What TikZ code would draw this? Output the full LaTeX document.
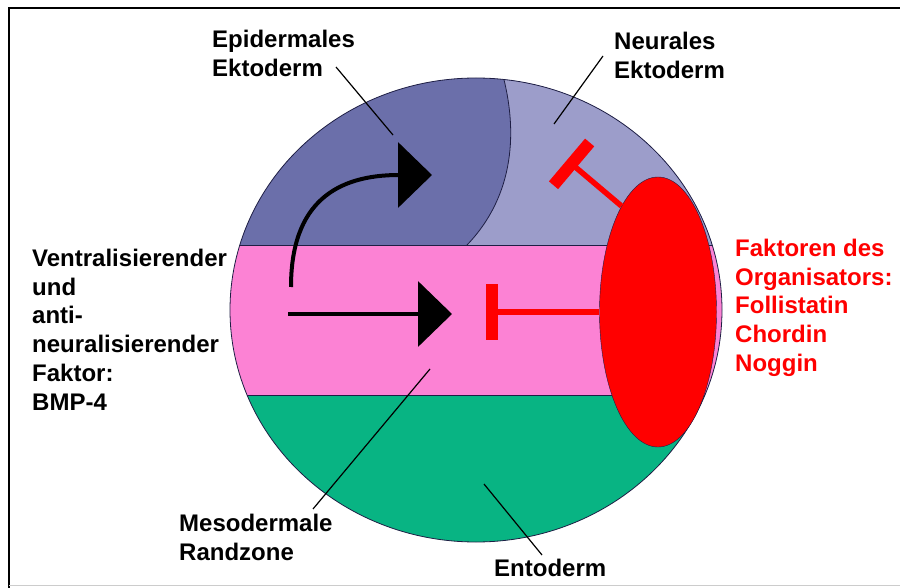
\documentclass[tikz,border=0pt]{standalone}
\usepackage{fontspec}
\setmainfont{Liberation Sans}
\usepackage{tikz}
\usetikzlibrary{positioning,shapes.geometric,arrows.meta}
\definecolor{epiblue}{HTML}{6B6FAA}
\definecolor{neublue}{HTML}{9C9DCA}
\definecolor{mesopink}{HTML}{FC82D4}
\definecolor{entogreen}{HTML}{08B483}
\definecolor{orgred}{HTML}{FF0000}
\definecolor{edgeblue}{HTML}{1E1E44}

\begin{document}
\begin{tikzpicture}[x=1pt,y=-1pt,
  lbl/.style={anchor=north west,inner sep=0pt,align=left,font=\fontsize{24}{28.7}\selectfont\bfseries},
  leader/.style={line width=1.2pt},
  push/.style={line width=4pt,-{Triangle[length=34pt,width=65pt]}},
  inhibit/.style={orgred,line width=5.5pt,-{Rectangle[length=12pt,width=56pt]}}]
  \useasboundingbox (0,0) rectangle (900,588);
  \draw[line width=2.5pt] (9,600) -- (9,8) -- (910,8);
  \draw[black!20,line width=1pt] (9,585) -- (900,585);
  % embryo
  \begin{scope}
    \clip (476,310) ellipse [x radius=246,y radius=232];
    \fill[epiblue] (220,60) rectangle (730,245);
    \fill[neublue] (502,72) .. controls (518,130) and (515,195) .. (467,245) -- (730,245) -- (730,60) -- cycle;
    \fill[mesopink] (220,245) rectangle (730,395);
    \fill[entogreen] (220,395) rectangle (730,560);
    \draw[edgeblue,line width=0.8pt] (220,245) -- (730,245) (220,395) -- (730,395);
    \draw[edgeblue,line width=0.8pt] (502,72) .. controls (518,130) and (515,195) .. (467,245);
  \end{scope}
  \draw[edgeblue,line width=0.8pt] (476,310) ellipse [x radius=246,y radius=232];
  \node[ellipse,draw=edgeblue,fill=orgred,minimum width=117pt,minimum height=270pt,inner sep=0pt] (org) at (658,312) {};
  % arrows
  \coordinate (bmpA) at (291,287);
  \coordinate (bmpB) at (432,175);
  \coordinate (bmpC) at (288,314);
  \coordinate (bmpD) at (452,314);
  \draw[push] (bmpA) .. controls +(0,-85) and +(-95,0) .. (bmpB);
  \draw[push] (bmpC) -- (bmpD);
  \coordinate (barL) at (486,312);
  \coordinate (barU) at (567,160);
  \draw[inhibit] (org.west) -- (barL);
  \draw[inhibit] (org.109) -- (barU);
  % labels
  \node[lbl] (epi) at (212,30) {Epidermales\\Ektoderm};
  \node[lbl] (neu) at (614,32) {Neurales\\Ektoderm};
  \node[lbl] (bmp) at (32,249) {Ventralisierender\\und\\anti-\\neuralisierender\\Faktor:\\BMP-4};
  \node[lbl] (meso) at (179,514) {Mesodermale\\Randzone};
  \node[lbl] (ento) at (494,559) {Entoderm};
  \node[lbl,text=orgred] (fac) at (735,239) {Faktoren des\\Organisators:\\Follistatin\\Chordin\\Noggin};
  \coordinate (epiA) at (336,67);
  \coordinate (epiB) at (393,135);
  \coordinate (neuA) at (603,56);
  \coordinate (neuB) at (554,124);
  \coordinate (mesoA) at (313,509);
  \coordinate (mesoB) at (430,369);
  \coordinate (entoA) at (542,555);
  \coordinate (entoB) at (484,484);
  \draw[leader] (epiA) -- (epiB);
  \draw[leader] (neuA) -- (neuB);
  \draw[leader] (mesoA) -- (mesoB);
  \draw[leader] (entoA) -- (entoB);
\end{tikzpicture}
\end{document}
